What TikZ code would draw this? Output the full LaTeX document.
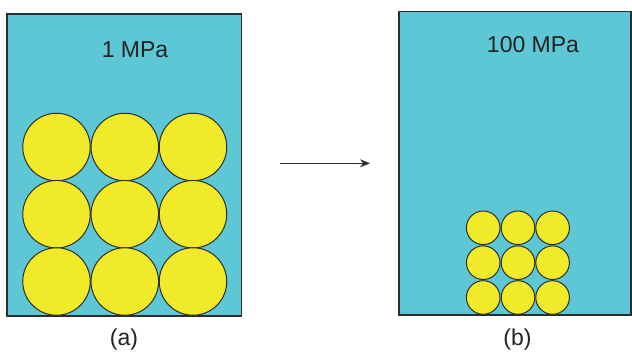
\documentclass[tikz,border=0pt]{standalone}
\usepackage{fontspec}
\setmainfont{Liberation Sans}
\usetikzlibrary{arrows.meta}
\definecolor{water}{RGB}{94,199,214}
\definecolor{grain}{RGB}{240,234,40}
\definecolor{edge}{RGB}{45,45,45}
\definecolor{ink}{RGB}{35,35,35}
\begin{document}
\begin{tikzpicture}[x=1pt,y=-1pt,
  boxstyle/.style={draw=edge,line width=1.3pt,fill=water},
  bigball/.style={circle,draw=edge,line width=1pt,fill=grain,minimum size=67.5pt,inner sep=0pt},
  smallball/.style={circle,draw=edge,line width=1pt,fill=grain,minimum size=33.6pt,inner sep=0pt},
  lbl/.style={text=ink,font=\fontsize{23}{26}\selectfont,inner sep=0pt}]
\useasboundingbox (0,0) rectangle (632,355);
\draw[boxstyle] (7,14) rectangle (241.5,316);
\draw[boxstyle] (399,11.5) rectangle (631,315);
\node[lbl] (p1) at (135,50) {1 MPa};
\node[lbl] (p2) at (533,44.5) {100 MPa};
\foreach \i/\x in {1/56.5,2/124.8,3/193}{
  \foreach \j/\y in {1/147,2/214.2,3/281.5}{
    \node[bigball] (a\i\j) at (\x,\y) {};
  }
}
\foreach \i/\x in {1/483.2,2/518,3/552.6}{
  \foreach \j/\y in {1/227.8,2/262.7,3/297.5}{
    \node[smallball] (b\i\j) at (\x,\y) {};
  }
}
\coordinate (s) at (280,163.3);
\coordinate (e) at (370,163.3);
\draw[edge,line width=1pt,-{Stealth[length=10pt,width=8pt]}] (s) -- (e);
\node[lbl] (la) at (124,340) {(a)};
\node[lbl] (lb) at (517.5,339.5) {(b)};
\end{tikzpicture}
\end{document}
